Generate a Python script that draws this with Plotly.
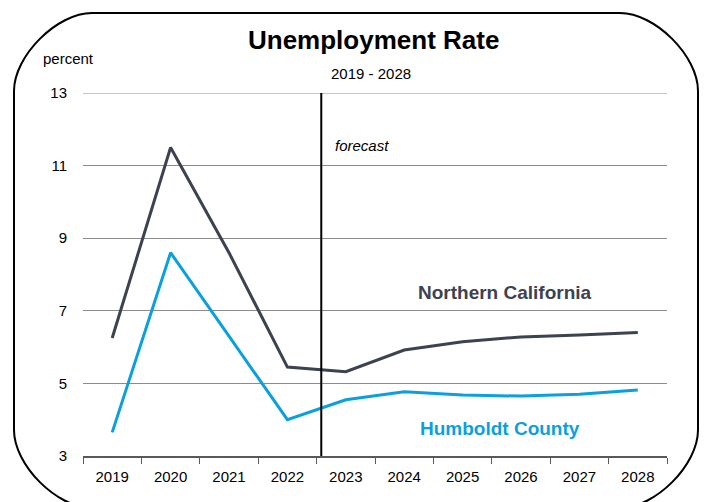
import plotly.graph_objects as go

years = ["2019", "2020", "2021", "2022", "2023", "2024", "2025", "2026", "2027", "2028"]
northern_california = [6.25, 11.5, 8.6, 5.45, 5.32, 5.92, 6.15, 6.28, 6.33, 6.4]
humboldt_county = [3.65, 8.6, 6.3, 4.0, 4.55, 4.77, 4.68, 4.65, 4.7, 4.82]
y_ticks = [3, 5, 7, 9, 11, 13]

NC_COLOR = "#3d4250"
HC_COLOR = "#0aa0e0"
FONT = "Liberation Sans, Arial, sans-serif"

W, H = 708, 502
L, R, T, B = 83, 41, 93, 46
pw, ph = W - L - R, H - T - B


def px(x):
    return (x - L) / pw


def py(y):
    return (H - B - y) / ph


fig = go.Figure()
fig.add_trace(go.Scatter(x=years, y=northern_california, mode="lines",
                         line=dict(color=NC_COLOR, width=3), name="Northern California",
                         showlegend=False))
fig.add_trace(go.Scatter(x=years, y=humboldt_county, mode="lines",
                         line=dict(color=HC_COLOR, width=3), name="Humboldt County",
                         showlegend=False))

# rounded frame around the whole chart
x0, x1, y0, y1, r = 14, 698, 13, 508, 78
k = 0.45 * r
path = (
    f"M {px(x0 + r)},{py(y0)} L {px(x1 - r)},{py(y0)} "
    f"C {px(x1 - r + k)},{py(y0)} {px(x1)},{py(y0 + r - k)} {px(x1)},{py(y0 + r)} "
    f"L {px(x1)},{py(y1 - r)} "
    f"C {px(x1)},{py(y1 - r + k)} {px(x1 - r + k)},{py(y1)} {px(x1 - r)},{py(y1)} "
    f"L {px(x0 + r)},{py(y1)} "
    f"C {px(x0 + r - k)},{py(y1)} {px(x0)},{py(y1 - r + k)} {px(x0)},{py(y1 - r)} "
    f"L {px(x0)},{py(y0 + r)} "
    f"C {px(x0)},{py(y0 + r - k)} {px(x0 + r - k)},{py(y0)} {px(x0 + r)},{py(y0)} Z"
)
fig.add_shape(type="path", path=path, xref="paper", yref="paper",
              line=dict(color="black", width=2), layer="above")

# top gridline sits on the upper edge of the plot area
fig.add_shape(type="line", xref="paper", yref="y", x0=0, x1=1,
              y0=y_ticks[-1], y1=y_ticks[-1], line=dict(color="#8c8c8c", width=1),
              layer="below")

# forecast divider
fig.add_shape(type="line", xref="x", yref="paper", x0=3.58, x1=3.58, y0=0, y1=1,
              line=dict(color="black", width=2))


def label(text, x, y, size, color="black", xanchor="center"):
    fig.add_annotation(text=text, xref="paper", yref="paper", x=px(x), y=py(y),
                       xanchor=xanchor, yanchor="middle", showarrow=False,
                       font=dict(family=FONT, size=size, color=color))


label("<b>Unemployment Rate</b>", 373, 40, 26)
label("2019 - 2028", 371, 73, 15)
label("percent", 41, 58, 15, xanchor="left")
label("<i>forecast</i>", 333, 145, 15, xanchor="left")
label("<b>Northern California</b>", 505, 292, 19, NC_COLOR)
label("<b>Humboldt County</b>", 500, 428, 19, HC_COLOR)

fig.update_layout(
    width=W, height=H,
    margin=dict(l=L, r=R, t=T, b=B),
    paper_bgcolor="white", plot_bgcolor="white",
    font=dict(family=FONT, size=15, color="black"),
    xaxis=dict(type="category", tickson="boundaries", ticks="outside", ticklen=6,
               tickcolor="#595959", showline=True, linecolor="#595959", linewidth=1.5,
               showgrid=False, tickfont=dict(size=15), range=[-0.5, 9.5],
               ticklabelstandoff=6),
    yaxis=dict(range=[3, 13], tickvals=y_ticks, showgrid=True, gridcolor="#8c8c8c",
               gridwidth=1, zeroline=False, showline=False, ticks="",
               ticklabelstandoff=15, tickfont=dict(size=15)),
)

fig.write_html("out.html")
